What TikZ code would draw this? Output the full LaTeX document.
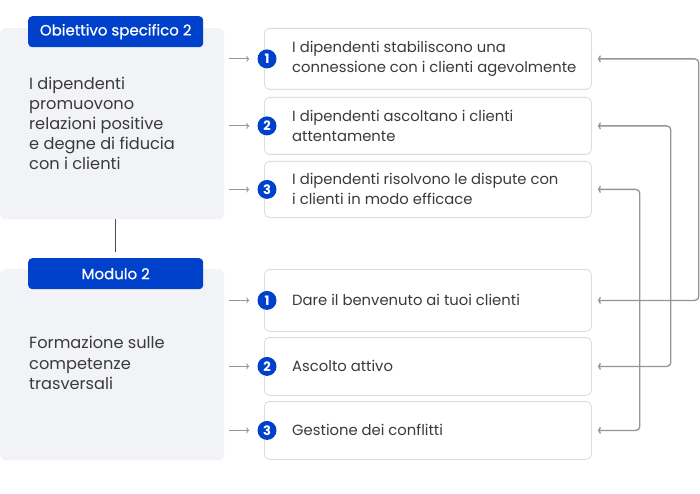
\documentclass[tikz,border=0pt]{standalone}
\usepackage{fontspec}
\setmainfont{Poppins}
\usetikzlibrary{arrows.meta,calc}
\definecolor{myblue}{HTML}{0041CC}
\definecolor{panelfill}{HTML}{F2F3F7}
\definecolor{boxline}{HTML}{DCDCDC}
\definecolor{txt}{HTML}{3A3A3A}
\definecolor{conn}{HTML}{959595}
\begin{document}
\begin{tikzpicture}[x=1pt,y=-1pt,
  panel/.style={fill=panelfill, rounded corners=6pt, minimum width=224pt, minimum height=191pt, anchor=north west, inner sep=0pt},
  tag/.style={fill=myblue, rounded corners=4pt, minimum width=175pt, minimum height=31pt, anchor=north west, inner sep=0pt, text=white, font=\fontsize{15}{17}\selectfont\addfontfeature{FakeBold=0.6}},
  ptext/.style={anchor=west, align=left, text=txt, inner sep=0pt, font=\fontsize{16.2}{20.2}\selectfont},
  itembox/.style={draw=boxline, fill=white, rounded corners=5pt, line width=0.8pt, minimum width=327pt, anchor=north west, inner sep=0pt},
  itext/.style={anchor=west, align=left, text=txt, inner sep=0pt, font=\fontsize{14.8}{20}\selectfont},
  num/.style={circle, fill=myblue, text=white, minimum size=19pt, inner sep=0pt, font=\fontsize{13}{13}\selectfont\bfseries},
  inarr/.style={draw=conn, line width=0.8pt, -{To[length=3pt,width=6pt]}},
  link/.style={draw=conn, line width=1.3pt, rounded corners=4pt, {To[length=3pt,width=7pt]}-{To[length=3pt,width=7pt]}},
  vline/.style={draw=black!70, line width=1.3pt}
]
\useasboundingbox (0,0) rectangle (700,494);
\fill[white] (0,0) rectangle (700,494);

% panels
\node[panel, minimum height=191pt] (p1) at (0,28) {};
\node[tag] (l1) at (28,16) {Obiettivo specifico 2};
\node[ptext] (pt1) at (29,123.5) {I dipendenti\\promuovono\\relazioni positive\\e degne di fiducia\\con i clienti};

\node[panel, minimum height=191pt] (p2) at (0,269) {};
\node[tag] (l2) at (28,258) {Modulo 2};
\node[ptext] (pt2) at (29,363) {Formazione sulle\\competenze\\trasversali};

\draw[vline] (l1 |- p1.south) -- ([yshift=6pt]l2.north);

% top boxes
\node[itembox, minimum height=61pt] (t1) at (264,28) {};
\node[itembox, minimum height=57pt] (t2) at (264,97) {};
\node[itembox, minimum height=56pt] (t3) at (264,161) {};
% bottom boxes
\node[itembox, minimum height=62pt] (b1) at (264,269) {};
\node[itembox, minimum height=58pt] (b2) at (264,337) {};
\node[itembox, minimum height=58pt] (b3) at (264,401) {};

\node[itext] (tt1) at ([xshift=28pt]t1.west) {I dipendenti stabiliscono una\\connessione con i clienti agevolmente};
\node[itext] (tt2) at ([xshift=28pt]t2.west) {I dipendenti ascoltano i clienti\\attentamente};
\node[itext] (tt3) at ([xshift=28pt]t3.west) {I dipendenti risolvono le dispute con\\i clienti in modo efficace};
\node[itext] (bt1) at ([xshift=28pt]b1.west) {Dare il benvenuto ai tuoi clienti};
\node[itext] (bt2) at ([xshift=28pt]b2.west) {Ascolto attivo};
\node[itext] (bt3) at ([xshift=28pt]b3.west) {Gestione dei conflitti};

% numbers
\foreach \b/\n in {t1/1,t2/2,t3/3,b1/1,b2/2,b3/3}{
  \node[num] (c\b) at ([xshift=3pt]\b.west) {\n};
  \draw[inarr] ([xshift=-28pt]c\b.west) -- ([xshift=-8pt]c\b.west);
}

% links
\draw[link] ([xshift=6pt]t1.east) -- ++(101,0) |- ([xshift=6pt]b1.east);
\draw[link] ([xshift=6pt]t2.east) -- ++(73,0) |- ([xshift=6pt]b2.east);
\draw[link] ([xshift=6pt]t3.east) -- ++(42,0) |- ([xshift=6pt]b3.east);
\end{tikzpicture}
\end{document}
